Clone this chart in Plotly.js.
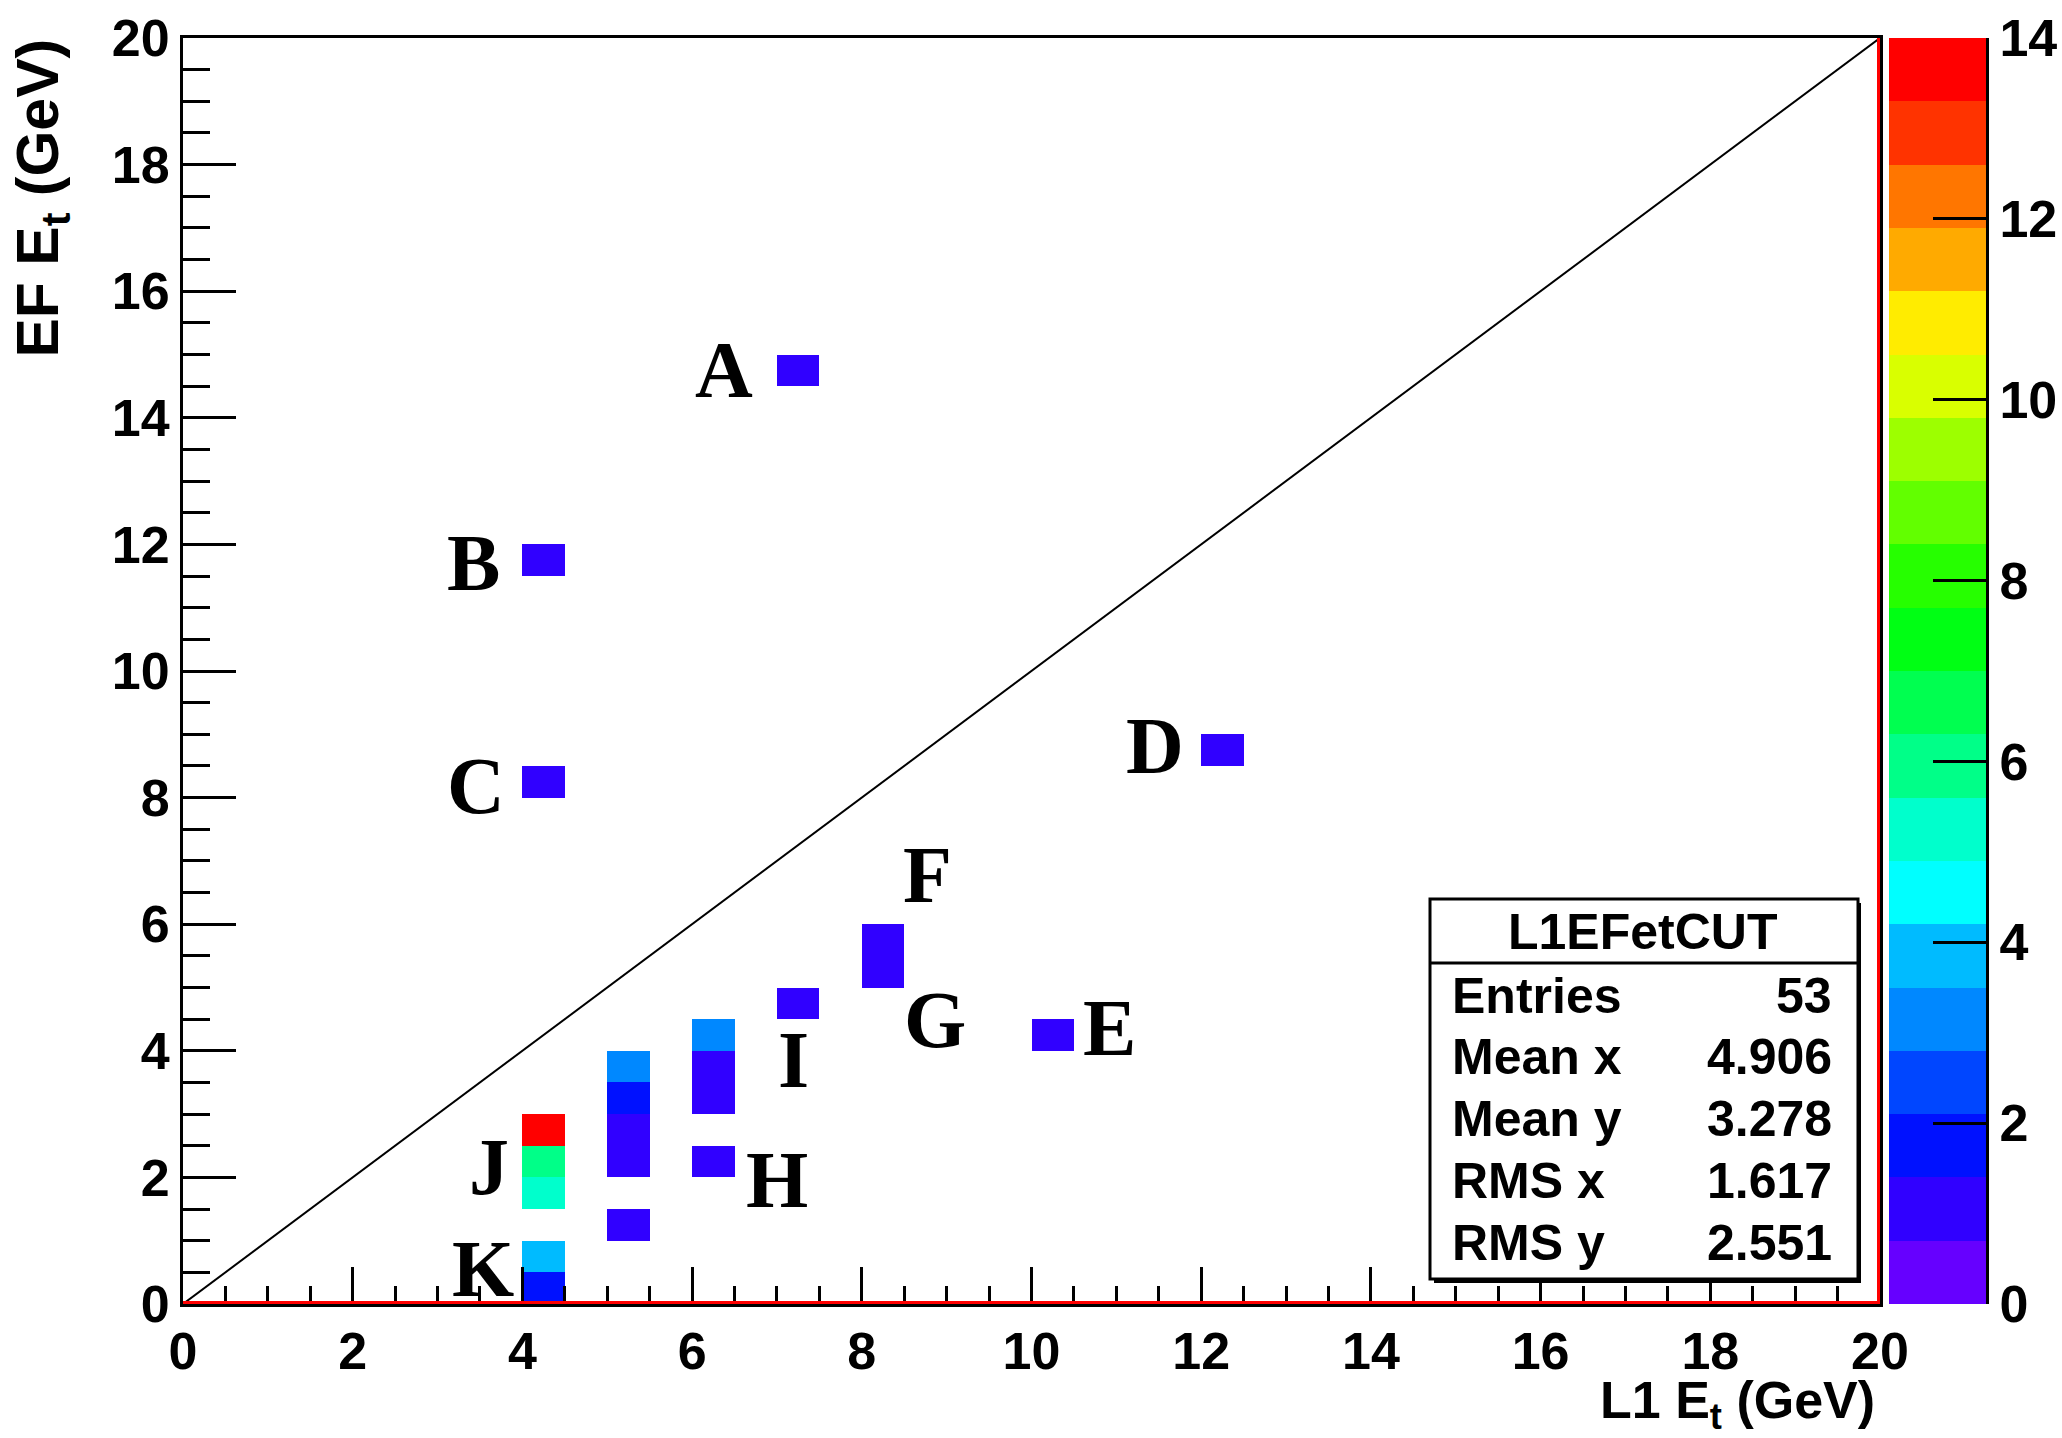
<!DOCTYPE html>
<html><head><meta charset="utf-8">
<script src="https://cdn.plot.ly/plotly-3.0.1.min.js"></script>
<style>html,body{margin:0;padding:0;background:#fff;} #chart{width:2062px;height:1438px;}</style>
</head><body><div id="chart"></div>
<script>
// ---- data (bin lower edges, bin width 0.5) ----
const cellX = [4, 4, 4, 4, 4, 4, 4, 5, 5, 5, 5, 5, 6, 6, 6, 6, 7, 7, 8, 8, 10, 12];
const cellY = [0, 0.5, 1.5, 2.0, 2.5, 8.0, 11.5, 1.0, 2.0, 2.5, 3.0, 3.5, 2.0, 3.0, 3.5, 4.0, 4.5, 14.5, 5.0, 5.5, 4.0, 8.5];
const cellCount = [2, 4, 5, 6, 14, 1, 1, 1, 1, 1, 2, 3, 1, 1, 1, 3, 1, 1, 1, 1, 1, 1];
const binWidth = 0.5;
const nBins = 40;
const zMax = 14;

const paletteColors = ['#6600ff', '#3000ff', '#0011ff', '#0046ff', '#0088ff', '#00bbff', '#00ffff', '#00ffcc', '#00ff88',
  '#00ff50', '#00ff14', '#26ff00', '#62ff00', '#9dff00', '#d9ff00', '#ffec00', '#ffaa00', '#ff7600', '#ff3300', '#ff0000'];

const labelText = ['A', 'B', 'C', 'D', 'E', 'F', 'G', 'H', 'I', 'J', 'K'];
const labelX = [6.38, 3.42, 3.45, 11.46, 10.92, 8.77, 8.86, 7.00, 7.20, 3.61, 3.54];
const labelY = [14.76, 11.70, 8.19, 8.82, 4.36, 6.78, 4.48, 1.96, 3.86, 2.16, 0.55];

const statsTitle = 'L1EFetCUT';
const statsNames = ['Entries', 'Mean x', 'Mean y', 'RMS x', 'RMS y'];
const statsValues = ['53', '4.906', '3.278', '1.617', '2.551'];

const xTitle = 'L1 E<sub>t</sub> (GeV)';
const yTitle = 'EF E<sub>t</sub> (GeV)';

// ---- build histogram matrix ----
const z = [];
for (let j = 0; j < nBins; j++) { z.push(new Array(nBins).fill(null)); }
cellX.forEach((xv, i) => {
  const ix = Math.round(xv / binWidth), iy = Math.round(cellY[i] / binWidth);
  z[iy][ix] = cellCount[i];
});

const nLevels = paletteColors.length;
const colorscale = [];
paletteColors.forEach((c, i) => {
  colorscale.push([i / nLevels, c]);
  colorscale.push([(i + 1) / nLevels, c]);
});
// palette strip: one cell per contour level
const levelStep = zMax / nLevels;
const paletteZ = paletteColors.map((c, i) => [(i + 0.5) * levelStep]);

const sans = 'Liberation Sans, Arial, sans-serif';
const tickFont = {family: sans, size: 52, color: 'black', weight: 'bold'};

// figure geometry in pixels
const W = 2062, H = 1438;
const plotL = 183, plotR = 1880, plotT = 38, plotB = 1304;
const palL = 1889, palR = 1986;
const px = v => v / W;
const py = v => (H - v) / H;

const traces = [
  {type: 'heatmap', z: z, x0: binWidth / 2, dx: binWidth, y0: binWidth / 2, dy: binWidth,
   zmin: 0, zmax: zMax, colorscale: colorscale, showscale: false, hoverinfo: 'skip', xaxis: 'x', yaxis: 'y'},
  {type: 'heatmap', z: paletteZ, x0: 0.5, dx: 1, y0: levelStep / 2, dy: levelStep,
   zmin: 0, zmax: zMax, colorscale: colorscale, showscale: false, hoverinfo: 'skip', xaxis: 'x2', yaxis: 'y2'}
];

const shapes = [
  {type: 'line', xref: 'x', yref: 'y', x0: 0, y0: 0, x1: 20, y1: 20, line: {color: 'black', width: 2}, layer: 'above'},
  {type: 'line', xref: 'x', yref: 'y', ysizemode: 'pixel', yanchor: 0, x0: 0, x1: 20, y0: 1.5, y1: 1.5, line: {color: '#ff0000', width: 3}, layer: 'above'},
  {type: 'line', xref: 'x', yref: 'y', xsizemode: 'pixel', xanchor: 20, x0: -1.5, x1: -1.5, y0: 0, y1: 20, line: {color: '#ff0000', width: 3}, layer: 'above'},
  // stats box shadow + box + separator
  {type: 'rect', xref: 'paper', yref: 'paper', x0: px(1434), x1: px(1861), y0: py(1283), y1: py(903), fillcolor: 'black', line: {width: 0}, layer: 'above'},
  {type: 'rect', xref: 'paper', yref: 'paper', x0: px(1430), x1: px(1858), y0: py(1279), y1: py(899), fillcolor: 'white', line: {color: 'black', width: 3}, layer: 'above'},
  {type: 'line', xref: 'paper', yref: 'paper', x0: px(1430), x1: px(1858), y0: py(963), y1: py(963), line: {color: 'black', width: 3}, layer: 'above'}
];

const annotations = [];
labelText.forEach((t, i) => {
  annotations.push({text: t, x: labelX[i], y: labelY[i], xref: 'x', yref: 'y', showarrow: false,
    xanchor: 'center', yanchor: 'middle',
    font: {family: 'Liberation Serif, Times New Roman, serif', size: 80, color: 'black', weight: 'bold'}});
});
const statFont = {family: sans, size: 50, color: 'black', weight: 'bold'};
annotations.push({text: statsTitle, xref: 'paper', yref: 'paper', x: px(1642), y: py(932), showarrow: false,
  xanchor: 'center', yanchor: 'middle', font: statFont});
const rowY = [996, 1057, 1119, 1181, 1243];
statsNames.forEach((n, i) => {
  annotations.push({text: n, xref: 'paper', yref: 'paper', x: px(1450), y: py(rowY[i]), showarrow: false,
    xanchor: 'left', yanchor: 'middle', font: statFont});
  annotations.push({text: statsValues[i], xref: 'paper', yref: 'paper', x: px(1834), y: py(rowY[i]), showarrow: false,
    xanchor: 'right', yanchor: 'middle', font: statFont});
});
annotations.push({text: xTitle, xref: 'paper', yref: 'paper', x: px(1877), y: py(1404), showarrow: false,
  xanchor: 'right', yanchor: 'middle', font: {family: sans, size: 52, color: 'black', weight: 'bold'}});
annotations.push({text: yTitle, xref: 'paper', yref: 'paper', x: px(42), y: py(37), showarrow: false,
  xanchor: 'center', yanchor: 'top', textangle: -90, font: {family: sans, size: 59, color: 'black', weight: 'bold'}});

const axisCommon = {
  showgrid: false, zeroline: false, showline: true, linecolor: 'black', linewidth: 3, mirror: true,
  ticks: 'inside', tickwidth: 3, tickcolor: 'black', tickmode: 'linear', tick0: 0, dtick: 2,
  tickfont: tickFont, fixedrange: true, automargin: false
};
const yDomain = [py(plotB), py(plotT)];

const layout = {
  width: W, height: H, margin: {l: 0, r: 0, t: 0, b: 0, pad: 0, autoexpand: false},
  paper_bgcolor: 'white', plot_bgcolor: 'white', showlegend: false,
  xaxis: Object.assign({}, axisCommon, {domain: [px(plotL), px(plotR)], anchor: 'y', range: [0, 20], ticklen: 37,
    minor: {ticks: 'inside', ticklen: 18, tickwidth: 3, tickcolor: 'black', dtick: 0.5, tick0: 0, showgrid: false}}),
  yaxis: Object.assign({}, axisCommon, {domain: yDomain, anchor: 'x', range: [0, 20], ticklen: 53,
    minor: {ticks: 'inside', ticklen: 27, tickwidth: 3, tickcolor: 'black', dtick: 0.5, tick0: 0, showgrid: false}}),
  xaxis2: {domain: [px(palL), px(palR)], anchor: 'y2', range: [0, 1], visible: false, fixedrange: true},
  yaxis2: Object.assign({}, axisCommon, {domain: yDomain, anchor: 'x2', side: 'right', mirror: false,
    range: [0, zMax], ticklen: 53}),
  shapes: shapes,
  annotations: annotations
};

Plotly.newPlot('chart', traces, layout, {staticPlot: true, displayModeBar: false});
</script>
</body></html>
